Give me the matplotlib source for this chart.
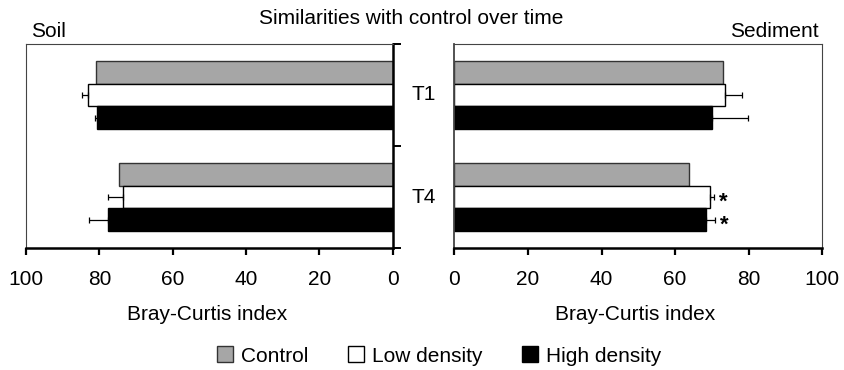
import matplotlib
matplotlib.use("Agg")
import matplotlib.pyplot as plt
from matplotlib.patches import Patch
import numpy as np

plt.rcParams['font.family'] = ['Liberation Sans', 'DejaVu Sans']

times = ['T1', 'T4']
series = ['Control', 'Low density', 'High density']

# Bray-Curtis similarity with control, per time point
soil_control = [81.0, 74.6]
soil_low = [83.0, 73.5]
soil_high = [80.7, 77.7]
soil_low_err = [1.8, 4.1]
soil_high_err = [0.4, 5.2]

sed_control = [73.1, 63.8]
sed_low = [73.6, 69.5]
sed_high = [70.0, 68.4]
sed_low_err = [4.5, 1.2]
sed_high_err = [9.7, 2.5]

# significant differences (time index, series index) in sediment
sed_signif = [(1, 1), (1, 2)]

colors = ['#a6a6a6', 'white', 'black']
edges = ['#333333', 'black', 'black']
bar_h = 0.223
fs = 15


def draw_panel(ax, values, errs):
    y = np.arange(len(times))
    for i, vals in enumerate(values):
        offset = (i - 1) * bar_h
        ax.barh(y + offset, vals, height=bar_h, color=colors[i],
                edgecolor=edges[i], linewidth=1.0, zorder=2)
        if errs[i] is not None:
            ax.errorbar(vals, y + offset, xerr=[np.zeros(len(vals)), errs[i]],
                        fmt='none', ecolor='black', elinewidth=0.9,
                        capsize=2.5, capthick=0.9, zorder=3)
    ax.set_xlim(0, 100)
    ax.set_ylim(1.5, -0.5)
    ax.set_xticks([0, 20, 40, 60, 80, 100])
    ax.tick_params(axis='x', direction='out', length=5, width=1.6,
                   labelsize=fs, pad=11)


fig = plt.figure(figsize=(8.44, 3.70), dpi=100)
ax1 = fig.add_axes([0.0308, 0.3297, 0.4345, 0.5514])
ax2 = fig.add_axes([0.5383, 0.3297, 0.4360, 0.5514])

draw_panel(ax1, [soil_control, soil_low, soil_high],
           [None, soil_low_err, soil_high_err])
draw_panel(ax2, [sed_control, sed_low, sed_high],
           [None, sed_low_err, sed_high_err])

# soil axis runs from 100 down to 0
ax1.set_xlim(100, 0)

ax1.yaxis.tick_right()
ax1.set_yticks([-0.5, 0.5, 1.5])
ax1.set_yticklabels([])
ax1.tick_params(axis='y', direction='out', length=6, width=1.4)
for side, lw, col in [('left', 0.8, '#444444'), ('top', 0.8, '#444444'),
                      ('right', 1.8, 'black'), ('bottom', 1.8, 'black')]:
    ax1.spines[side].set_linewidth(lw)
    ax1.spines[side].set_color(col)

ax2.set_yticks([])
for side, lw, col in [('left', 1.3, '#444444'), ('top', 0.8, '#444444'),
                      ('right', 0.8, '#444444'), ('bottom', 1.8, 'black')]:
    ax2.spines[side].set_linewidth(lw)
    ax2.spines[side].set_color(col)

# significance stars
sed_vals = [sed_control, sed_low, sed_high]
sed_errs = [[0, 0], sed_low_err, sed_high_err]
for t, s in sed_signif:
    ax2.text(sed_vals[s][t] + sed_errs[s][t] + 1.2, t + (s - 1) * bar_h + 0.05,
             '*', fontsize=16, fontweight='bold', ha='left', va='center')

# time labels between the panels
for t, name in enumerate(times):
    yy = ax1.transData.transform((0, t))[1]
    fx, fy = fig.transFigure.inverted().transform((0, yy))
    fig.text(0.502, fy, name, fontsize=fs, ha='center', va='center')

fig.text(0.4876, 0.951, 'Similarities with control over time', fontsize=fs,
         ha='center', va='center')
fig.text(0.037, 0.916, 'Soil', fontsize=fs, ha='left', va='center')
fig.text(0.970, 0.916, 'Sediment', fontsize=fs, ha='right', va='center')

fig.text(0.245, 0.150, 'Bray-Curtis index', fontsize=fs, ha='center', va='center')
fig.text(0.752, 0.150, 'Bray-Curtis index', fontsize=fs, ha='center', va='center')

handles = [Patch(facecolor=colors[i], edgecolor=edges[i], linewidth=1.0)
           for i in range(3)]
fig.legend(handles, series, loc='center', bbox_to_anchor=(0.52, 0.038),
           ncol=3, frameon=False, fontsize=fs, handlelength=0.8,
           handleheight=0.8, handletextpad=0.35, columnspacing=1.9)

fig.savefig('out.png', dpi=100)
